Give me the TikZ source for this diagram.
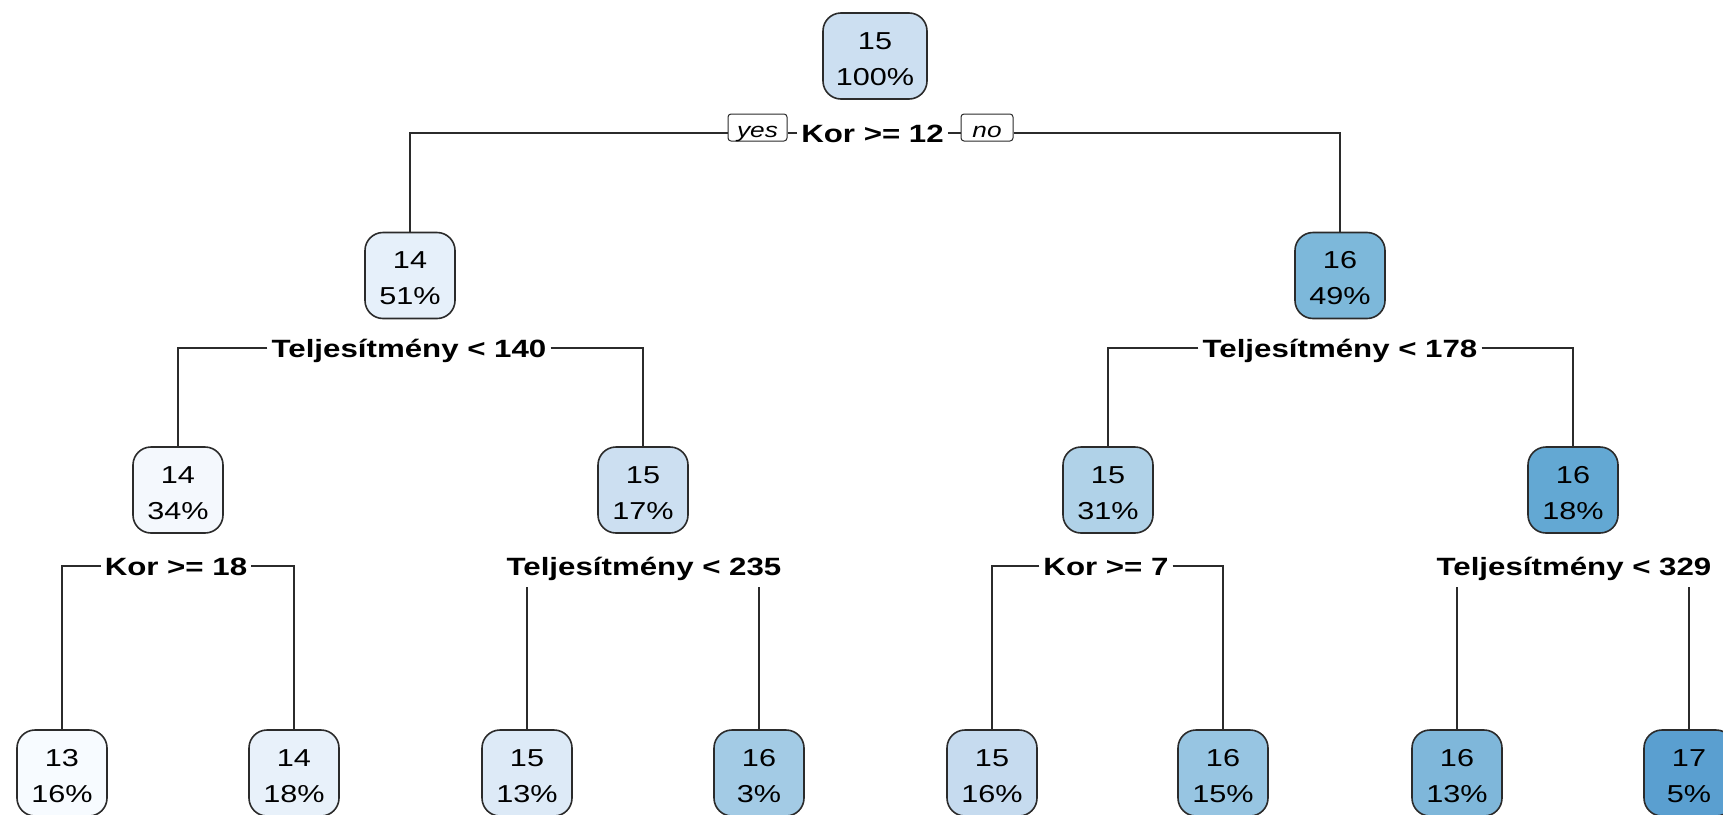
\documentclass[tikz,border=0pt]{standalone}
\usepackage{fontspec}
\setmainfont[FakeStretch=1.25]{Liberation Sans}
\definecolor{lc}{HTML}{2B2B2B}
\definecolor{cA}{HTML}{CCDFF1}
\definecolor{cB}{HTML}{E6F0FA}
\definecolor{cC}{HTML}{7DB8DA}
\definecolor{cD}{HTML}{F4F8FD}
\definecolor{cE}{HTML}{CCDFF1}
\definecolor{cF}{HTML}{B0D2E8}
\definecolor{cG}{HTML}{63A8D3}
\definecolor{cH}{HTML}{F7FBFF}
\definecolor{cI}{HTML}{E8F1FA}
\definecolor{cJ}{HTML}{DDEAF7}
\definecolor{cK}{HTML}{A3CBE5}
\definecolor{cL}{HTML}{C6DBEF}
\definecolor{cM}{HTML}{97C5E2}
\definecolor{cN}{HTML}{7FB7DA}
\definecolor{cO}{HTML}{5A9FD0}
\newcommand\nodetxt[2]{\rule{0pt}{23pt}#1\\#2}
\begin{document}
\begin{tikzpicture}[x=1pt,y=-1pt,
  nd/.style={draw=lc, line width=1.6pt, rounded corners=18pt, minimum width=90pt,
    minimum height=86pt, inner sep=0pt, align=center,
    font=\fontsize{24.5}{36}\selectfont},
  sp/.style={font=\fontsize{25}{30}\selectfont\bfseries, text height=18pt,
    text depth=0pt, inner xsep=4pt, inner ysep=0pt},
  wsp/.style={sp, inner ysep=12pt},
  yn/.style={draw=lc, line width=1pt, rounded corners=3pt, fill=white,
    font=\fontsize{21}{22}\selectfont\itshape, inner xsep=0pt, inner ysep=0pt,
    text height=23pt, text depth=4pt},
  ln/.style={draw=lc, line width=1.4pt}]
\clip (0,0) rectangle (1723,814);
\fill[white] (0,0) rectangle (1723,814);

% nodes
\node[nd, fill=cA, minimum width=104pt] (r) at (875,56) {\nodetxt{15}{100\%}};
\node[nd, fill=cB] (a) at (410,275.5) {\nodetxt{14}{51\%}};
\node[nd, fill=cC] (b) at (1340,275.5) {\nodetxt{16}{49\%}};
\node[nd, fill=cD] (a1) at (178,490) {\nodetxt{14}{34\%}};
\node[nd, fill=cE] (a2) at (643,490) {\nodetxt{15}{17\%}};
\node[nd, fill=cF] (b1) at (1108,490) {\nodetxt{15}{31\%}};
\node[nd, fill=cG] (b2) at (1573,490) {\nodetxt{16}{18\%}};
\node[nd, fill=cH] (l1) at (62,773) {\nodetxt{13}{16\%}};
\node[nd, fill=cI] (l2) at (294,773) {\nodetxt{14}{18\%}};
\node[nd, fill=cJ] (l3) at (527,773) {\nodetxt{15}{13\%}};
\node[nd, fill=cK] (l4) at (759,773) {\nodetxt{16}{3\%}};
\node[nd, fill=cL] (l5) at (992,773) {\nodetxt{15}{16\%}};
\node[nd, fill=cM] (l6) at (1223,773) {\nodetxt{16}{15\%}};
\node[nd, fill=cN] (l7) at (1457,773) {\nodetxt{16}{13\%}};
\node[nd, fill=cO] (l8) at (1689,773) {\nodetxt{17}{5\%}};

% split labels
\node[sp] (s0) at (872.5,133) {Kor >= 12};
\node[yn, minimum width=59pt] (yes) at (757.5,127.5) {yes};
\node[yn, minimum width=52pt] (no) at (987,127.5) {no};
\node[sp] (sa) at (409,348) {Teljesítmény < 140};
\node[sp] (sb) at (1340,348) {Teljesítmény < 178};
\node[sp] (sa1) at (176,566) {Kor >= 18};
\node[wsp] (sa2) at (644,566) {Teljesítmény < 235};
\node[sp] (sb1) at (1106,566) {Kor >= 7};
\node[wsp] (sb2) at (1574,566) {Teljesítmény < 329};

% connectors
\draw[ln] (s0.west) -- (s0.west -| yes.east);
\draw[ln] (s0.west -| yes.west) -| (a.north);
\draw[ln] (s0.east) -- (s0.east -| no.west);
\draw[ln] (s0.east -| no.east) -| (b.north);

\draw[ln] (sa.west) -| (a1.north);
\draw[ln] (sa.east) -| (a2.north);
\draw[ln] (sb.west) -| (b1.north);
\draw[ln] (sb.east) -| (b2.north);

\draw[ln] (sa1.west) -| (l1.north);
\draw[ln] (sa1.east) -| (l2.north);
\draw[ln] (l3.north |- sa2.south) -- (l3.north);
\draw[ln] (l4.north |- sa2.south) -- (l4.north);
\draw[ln] (sb1.west) -| (l5.north);
\draw[ln] (sb1.east) -| (l6.north);
\draw[ln] (l7.north |- sb2.south) -- (l7.north);
\draw[ln] (l8.north |- sb2.south) -- (l8.north);
\end{tikzpicture}
\end{document}
